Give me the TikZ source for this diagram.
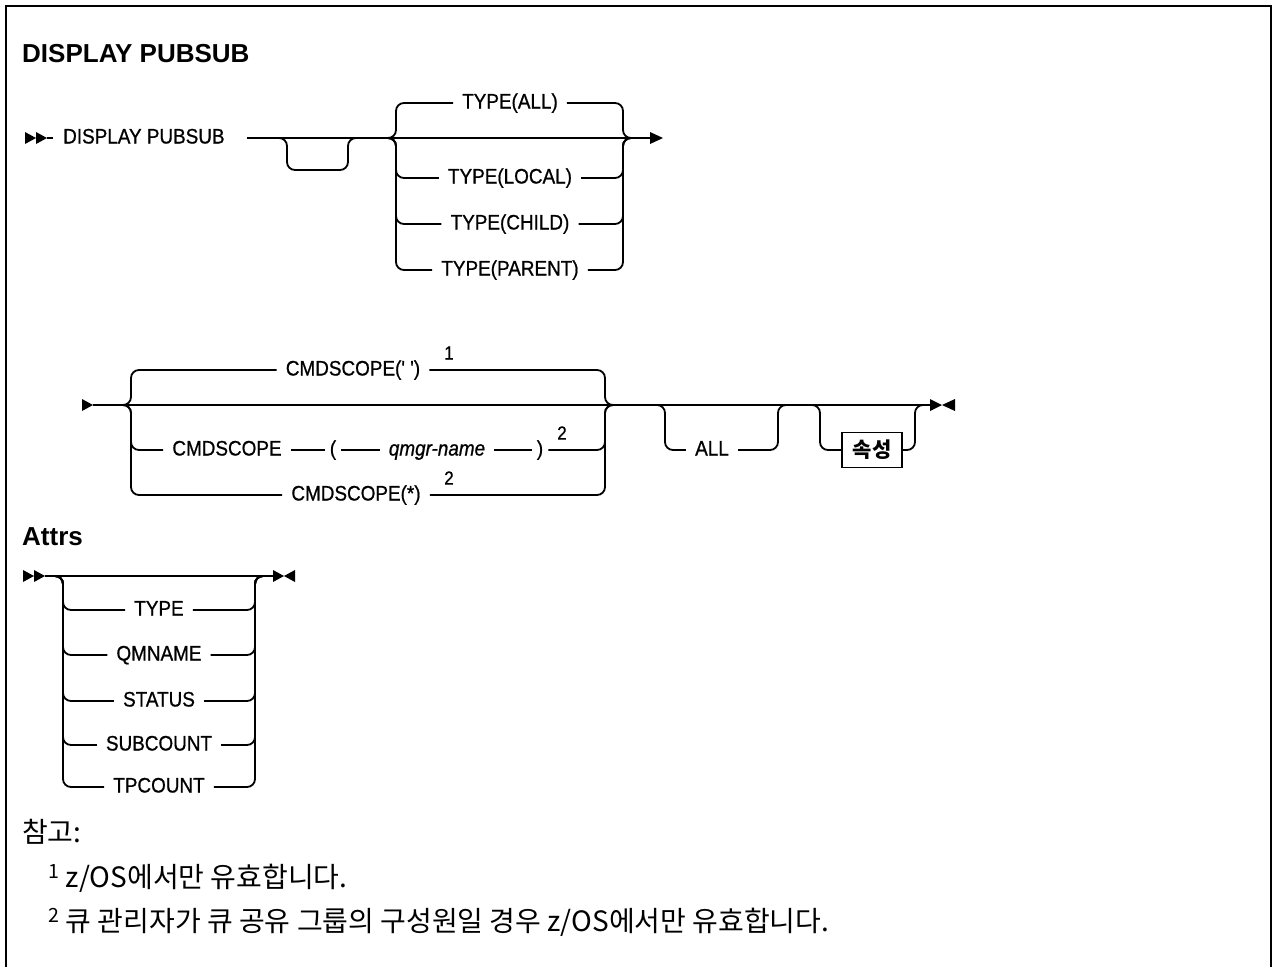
\documentclass[tikz,border=0pt]{standalone}
\usepackage{fontspec}
\newfontfamily\diag[FakeStretch=0.9,FakeBold=0.8,Ligatures=TeXOff]{Liberation Sans}
\newfontfamily\ttl{Liberation Sans}
\newfontfamily\kr{Noto Sans CJK KR}
\begin{document}
\begin{tikzpicture}[x=1pt,y=-1pt]
\tikzset{
 rail/.style={line width=1.8pt, rounded corners=8pt},
 lbl/.style={font=\diag\fontsize{21}{24}\selectfont, inner xsep=9pt, inner ysep=0pt, text height=15pt, text depth=4pt},
 ital/.style={lbl, font=\diag\itshape\fontsize{21}{24}\selectfont},
 par/.style={lbl, inner xsep=5pt},
 supn/.style={font=\diag\fontsize{19}{19}\selectfont, inner sep=0pt},
 head/.style={font=\ttl\bfseries\fontsize{26}{30}\selectfont, anchor=west, inner sep=0pt},
 note/.style={font=\kr\fontsize{28}{32}\selectfont, anchor=west, inner sep=0pt},
 boxed/.style={draw, line width=1.5pt, font=\kr\bfseries\fontsize{21}{24}\selectfont, minimum width=60pt, minimum height=35pt, inner sep=0pt},
}
\useasboundingbox (0,0) rectangle (1274,967);
\draw[line width=2.4pt] (6,967) -- (6,6) -- (1271,6) -- (1271,967);

% titles
\node[head] (t1) at (22,54) {DISPLAY PUBSUB};
\node[head] (t2) at (22,537) {Attrs};

% ---------- row 1 ----------
\fill (25,132) -- (36,138) -- (25,144) -- cycle;
\fill (36,132) -- (47,138) -- (36,144) -- cycle;
\coordinate (a1) at (47,138);
\node[lbl,anchor=west,inner xsep=0pt] (dp) at (63,138) {DISPLAY PUBSUB};
\draw[rail] (a1) -- (dp.west -| 53,0);
\coordinate (m1) at (247,138);
\coordinate (e1) at (650,138);
\draw[rail] (m1) -- (e1);
\fill (650,132) -- (663,138) -- (650,144) -- cycle;
\draw[rail] (277,138) -- (287,138) -- (287,170) -- (348,170) -- (348,138) -- (358,138);
\foreach \y/\t/\n in {103/TYPE(ALL)/ta, 178/TYPE(LOCAL)/tl, 224/TYPE(CHILD)/tc, 270/TYPE(PARENT)/tp}{
  \node[lbl] (\n) at (510,\y) {\t};
  \draw[rail] (384,138) -- (396,138) -- (396,\y) -- (\n.west);
  \draw[rail] (\n.east) -- (623,\y) -- (623,138) -- (635,138);
}

% ---------- row 2 ----------
\fill (82,399) -- (93,405) -- (82,411) -- cycle;
\draw[rail] (93,405) -- (930,405);
\fill (930,399) -- (942,405) -- (930,411) -- cycle;
\fill (955,399) -- (942,405) -- (955,411) -- cycle;
% top branch
\node[lbl] (c1) at (353,370) {CMDSCOPE(' ')};
\node[supn] (s1) at (449,353) {1};
\draw[rail] (119,405) -- (131,405) -- (131,370) -- (c1.west);
\draw[rail] (c1.east) -- (605,370) -- (605,405) -- (617,405);
% qmgr branch
\node[lbl] (q1) at (227,450) {CMDSCOPE};
\node[par] (q2) at (333,450) {(};
\node[ital] (q3) at (437,450) {qmgr-name};
\node[par] (q4) at (540,450) {)};
\node[supn] (s2) at (562,433) {2};
\draw[rail] (119,405) -- (131,405) -- (131,450) -- (q1.west);
\draw[rail] (q1.east) -- (q2.west);
\draw[rail] (q2.east) -- (q3.west);
\draw[rail] (q3.east) -- (q4.west);
\draw[rail] (q4.east) -- (605,450) -- (605,405) -- (617,405);
% star branch
\node[lbl] (c3) at (356,495) {CMDSCOPE(*)};
\node[supn] (s3) at (449,478) {2};
\draw[rail] (119,405) -- (131,405) -- (131,495) -- (c3.west);
\draw[rail] (c3.east) -- (605,495) -- (605,405) -- (617,405);
% ALL
\node[lbl] (al) at (712,450) {ALL};
\draw[rail] (653,405) -- (665,405) -- (665,450) -- (al.west);
\draw[rail] (al.east) -- (778,450) -- (778,405) -- (790,405);
% attrs box
\node[boxed] (at) at (872,450) {속성};
\draw[rail] (808,405) -- (820,405) -- (820,450) -- (at.west);
\draw[rail] (at.east) -- (915,450) -- (915,405) -- (927,405);

% ---------- row 3 ----------
\fill (23,570) -- (34,576) -- (23,582) -- cycle;
\fill (34,570) -- (45,576) -- (34,582) -- cycle;
\draw[rail] (45,576) -- (273,576);
\fill (273,570) -- (284,576) -- (273,582) -- cycle;
\fill (295,570) -- (284,576) -- (295,582) -- cycle;
\foreach \y/\t/\n in {610/TYPE/b1, 655/QMNAME/b2, 701/STATUS/b3, 745/SUBCOUNT/b4, 787/TPCOUNT/b5}{
  \node[lbl] (\n) at (159,\y) {\t};
  \draw[rail] (51,576) -- (63,576) -- (63,\y) -- (\n.west);
  \draw[rail] (\n.east) -- (255,\y) -- (255,576) -- (267,576);
}

% ---------- notes ----------
\node[note] (n0) at (22,832) {참고:};
\node[note] (n1) at (48,878) {\textsuperscript{1} z/OS에서만 유효합니다.};
\node[note] (n2) at (48,922) {\textsuperscript{2} 큐 관리자가 큐 공유 그룹의 구성원일 경우 z/OS에서만 유효합니다.};
\end{tikzpicture}
\end{document}
